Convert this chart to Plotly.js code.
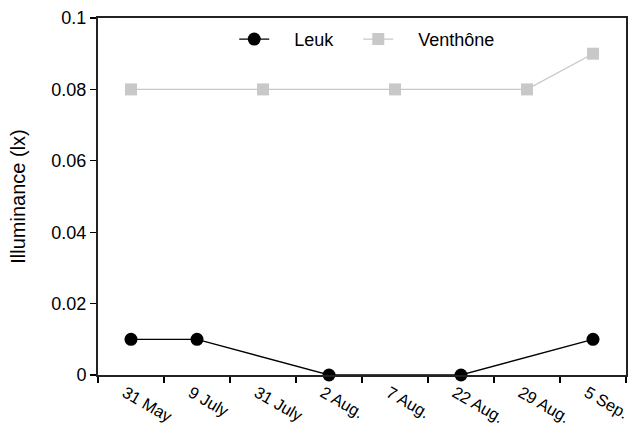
<!DOCTYPE html>
<html>
<head>
<meta charset="utf-8">
<script src="https://cdn.plot.ly/plotly-3.0.1.min.js"></script>
<style>html,body{margin:0;padding:0;background:#fff;}#chart{width:633px;height:427px;}</style>
</head>
<body>
<div id="chart"></div>
<script>
const categories = ["31 May", "9 July", "31 July", "2 Aug.", "7 Aug.", "22 Aug.", "29 Aug.", "5 Sep."];
const leuk = [0.01, 0.01, null, 0, null, 0, null, 0.01];
const venthone = [0.08, null, 0.08, null, 0.08, null, 0.08, 0.09];
const yTicks = [0, 0.02, 0.04, 0.06, 0.08, 0.1];
const seriesNames = ["Leuk", "Venthône"];

const font = "Liberation Sans, Arial, Helvetica, sans-serif";
const pad = "\u00a0\u00a0\u00a0\u00a0";
const traces = [
  {x: categories, y: leuk, name: pad + seriesNames[0] + pad, type: "scatter", mode: "lines+markers", connectgaps: true,
   line: {color: "#000", width: 1.3}, marker: {symbol: "circle", size: 13, color: "#000"}, cliponaxis: false},
  {x: categories, y: venthone, name: pad + seriesNames[1], type: "scatter", mode: "lines+markers", connectgaps: true,
   line: {color: "#c8c8c8", width: 1.3}, marker: {symbol: "square", size: 12, color: "#c8c8c8"}, cliponaxis: false}
];
const layout = {
  width: 633, height: 427,
  margin: {l: 98, r: 7, t: 18, b: 52},
  paper_bgcolor: "#fff", plot_bgcolor: "#fff",
  font: {family: font, size: 18, color: "#000"},
  showlegend: true,
  legend: {orientation: "h", x: 0.258, xanchor: "left", y: 0.94, yanchor: "middle", font: {size: 18}, bgcolor: "rgba(0,0,0,0)"},
  xaxis: {type: "category", categoryorder: "array", categoryarray: categories, range: [-0.5, 7.5],
    tickson: "boundaries", ticks: "outside", ticklen: 6, tickwidth: 1.2, tickcolor: "#000",
    showline: true, linecolor: "#222", linewidth: 2, mirror: true, showgrid: false, zeroline: false,
    tickangle: 30, tickfont: {size: 16.5}, ticklabelshift: -6, ticklabelstandoff: 0},
  yaxis: {range: [0, 0.1], tickvals: yTicks, ticktext: yTicks.map(v => String(v)),
    ticks: "outside", ticklen: 6, tickwidth: 1.2, tickcolor: "#000",
    showline: true, linecolor: "#222", linewidth: 2, mirror: true, showgrid: false, zeroline: false,
    tickfont: {size: 18},
    title: {text: "Illuminance (lx)", font: {size: 20}, standoff: 20}}
};
Plotly.newPlot("chart", traces, layout, {displayModeBar: false, staticPlot: true});
</script>
</body>
</html>
